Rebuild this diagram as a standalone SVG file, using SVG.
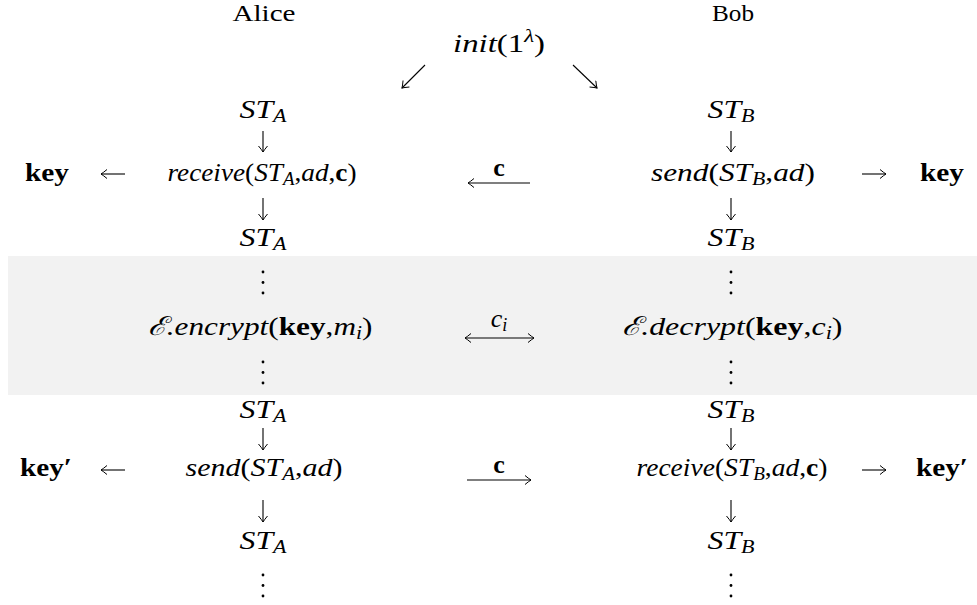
<svg xmlns="http://www.w3.org/2000/svg" width="977" height="605" viewBox="0 0 977 605">
<style>
text{font-family:"Liberation Serif","DejaVu Serif",serif;font-size:26px;fill:#000;text-anchor:middle}
.it{font-style:italic}
.b{font-weight:bold}
.sub{font-size:18px}
.ttl{font-size:23px}
.ln{stroke:#000;stroke-width:1.1;fill:none}
</style>
<defs>
<marker id="ah" viewBox="-7 -5 8 10" markerWidth="8" markerHeight="10" refX="0" refY="0" orient="auto" markerUnits="userSpaceOnUse">
<path d="M-6,-4.5 Q-1.8,-1 0,0 Q-1.8,1 -6,4.5" fill="none" stroke="#000" stroke-width="1"/>
</marker>
<marker id="as" viewBox="-7 -5 8 10" markerWidth="8" markerHeight="10" refX="0" refY="0" orient="auto-start-reverse" markerUnits="userSpaceOnUse">
<path d="M-6,-4.5 Q-1.8,-1 0,0 Q-1.8,1 -6,4.5" fill="none" stroke="#000" stroke-width="1"/>
</marker>
<g id="vdots"><circle cx="0" cy="0" r="1.4"/><circle cx="0" cy="10.5" r="1.4"/><circle cx="0" cy="21" r="1.4"/></g>
</defs>
<rect x="8" y="256" width="969" height="139" fill="#f2f2f2"/>

<g id="titles">
<text class="ttl" x="264" y="21" textLength="63" lengthAdjust="spacingAndGlyphs">Alice</text>
<text class="ttl" x="733" y="21" textLength="42" lengthAdjust="spacingAndGlyphs">Bob</text>
</g>
<g id="init"><text x="499" y="52" textLength="92" lengthAdjust="spacingAndGlyphs"><tspan class="it">init</tspan>(1<tspan class="it" font-size="18" dy="-10">λ</tspan><tspan dy="10">)</tspan></text></g>

<g id="alice">
<text x="263" y="118" class="it" textLength="47" lengthAdjust="spacingAndGlyphs">ST<tspan class="sub" dy="4">A</tspan></text>
<text x="262" y="181" textLength="189" lengthAdjust="spacingAndGlyphs"><tspan class="it">receive</tspan>(<tspan class="it">ST</tspan><tspan class="sub it" dy="4">A</tspan><tspan dy="-4">,</tspan><tspan class="it">ad</tspan>,<tspan class="b">c</tspan>)</text>
<text x="263" y="246" class="it" textLength="47" lengthAdjust="spacingAndGlyphs">ST<tspan class="sub" dy="4">A</tspan></text>
<use href="#vdots" x="263" y="272"/>
<text x="260" y="335" textLength="225" lengthAdjust="spacingAndGlyphs"><tspan class="it">ℰ.encrypt</tspan>(<tspan class="b">key</tspan>,<tspan class="it">m</tspan><tspan class="sub it" dy="4">i</tspan><tspan dy="-4">)</tspan></text>
<use href="#vdots" x="263" y="362"/>
<text x="263" y="418" class="it" textLength="47" lengthAdjust="spacingAndGlyphs">ST<tspan class="sub" dy="4">A</tspan></text>
<text x="264" y="476" textLength="157" lengthAdjust="spacingAndGlyphs"><tspan class="it">send</tspan>(<tspan class="it">ST</tspan><tspan class="sub it" dy="4">A</tspan><tspan dy="-4">,</tspan><tspan class="it">ad</tspan>)</text>
<text x="263" y="549" class="it" textLength="47" lengthAdjust="spacingAndGlyphs">ST<tspan class="sub" dy="4">A</tspan></text>
<use href="#vdots" x="263" y="575"/>
</g>

<g id="bob">
<text x="731" y="118" class="it" textLength="47" lengthAdjust="spacingAndGlyphs">ST<tspan class="sub" dy="4">B</tspan></text>
<text x="733" y="181" textLength="164" lengthAdjust="spacingAndGlyphs"><tspan class="it">send</tspan>(<tspan class="it">ST</tspan><tspan class="sub it" dy="4">B</tspan><tspan dy="-4">,</tspan><tspan class="it">ad</tspan>)</text>
<text x="731" y="246" class="it" textLength="47" lengthAdjust="spacingAndGlyphs">ST<tspan class="sub" dy="4">B</tspan></text>
<use href="#vdots" x="731" y="272"/>
<text x="732" y="335" textLength="221" lengthAdjust="spacingAndGlyphs"><tspan class="it">ℰ.decrypt</tspan>(<tspan class="b">key</tspan>,<tspan class="it">c</tspan><tspan class="sub it" dy="4">i</tspan><tspan dy="-4">)</tspan></text>
<use href="#vdots" x="731" y="362"/>
<text x="731" y="418" class="it" textLength="47" lengthAdjust="spacingAndGlyphs">ST<tspan class="sub" dy="4">B</tspan></text>
<text x="732" y="476" textLength="191" lengthAdjust="spacingAndGlyphs"><tspan class="it">receive</tspan>(<tspan class="it">ST</tspan><tspan class="sub it" dy="4">B</tspan><tspan dy="-4">,</tspan><tspan class="it">ad</tspan>,<tspan class="b">c</tspan>)</text>
<text x="731" y="549" class="it" textLength="47" lengthAdjust="spacingAndGlyphs">ST<tspan class="sub" dy="4">B</tspan></text>
<use href="#vdots" x="731" y="575"/>
</g>

<g id="keys">
<text x="47" y="181" class="b" textLength="44" lengthAdjust="spacingAndGlyphs">key</text>
<text x="942" y="181" class="b" textLength="44" lengthAdjust="spacingAndGlyphs">key</text>
<text x="46" y="476" class="b" textLength="52" lengthAdjust="spacingAndGlyphs">key′</text>
<text x="942" y="476" class="b" textLength="52" lengthAdjust="spacingAndGlyphs">key′</text>
</g>

<g id="labels">
<text x="499" y="176" class="b">c</text>
<text x="499" y="327" class="it">c<tspan class="sub" dy="4">i</tspan></text>
<text x="499" y="473" class="b">c</text>
</g>

<g id="connectors" class="ln">
<line x1="425" y1="65" x2="402" y2="88" marker-end="url(#ah)"/>
<line x1="573" y1="65" x2="597" y2="88" marker-end="url(#ah)"/>
<line x1="263" y1="131" x2="263" y2="152" marker-end="url(#ah)"/>
<line x1="731" y1="131" x2="731" y2="152" marker-end="url(#ah)"/>
<line x1="263" y1="198" x2="263" y2="220" marker-end="url(#ah)"/>
<line x1="731" y1="198" x2="731" y2="220" marker-end="url(#ah)"/>
<line x1="263" y1="428" x2="263" y2="450" marker-end="url(#ah)"/>
<line x1="731" y1="428" x2="731" y2="450" marker-end="url(#ah)"/>
<line x1="263" y1="500" x2="263" y2="522" marker-end="url(#ah)"/>
<line x1="731" y1="500" x2="731" y2="522" marker-end="url(#ah)"/>
<line x1="125" y1="174" x2="101" y2="174" marker-end="url(#ah)"/>
<line x1="862" y1="174" x2="886" y2="174" marker-end="url(#ah)"/>
<line x1="125" y1="470" x2="101" y2="470" marker-end="url(#ah)"/>
<line x1="862" y1="470" x2="886" y2="470" marker-end="url(#ah)"/>
<line x1="530" y1="183" x2="468" y2="183" marker-end="url(#ah)"/>
<line x1="465" y1="338" x2="534" y2="338" marker-start="url(#as)" marker-end="url(#ah)"/>
<line x1="467" y1="480" x2="531" y2="480" marker-end="url(#ah)"/>
</g>
</svg>
